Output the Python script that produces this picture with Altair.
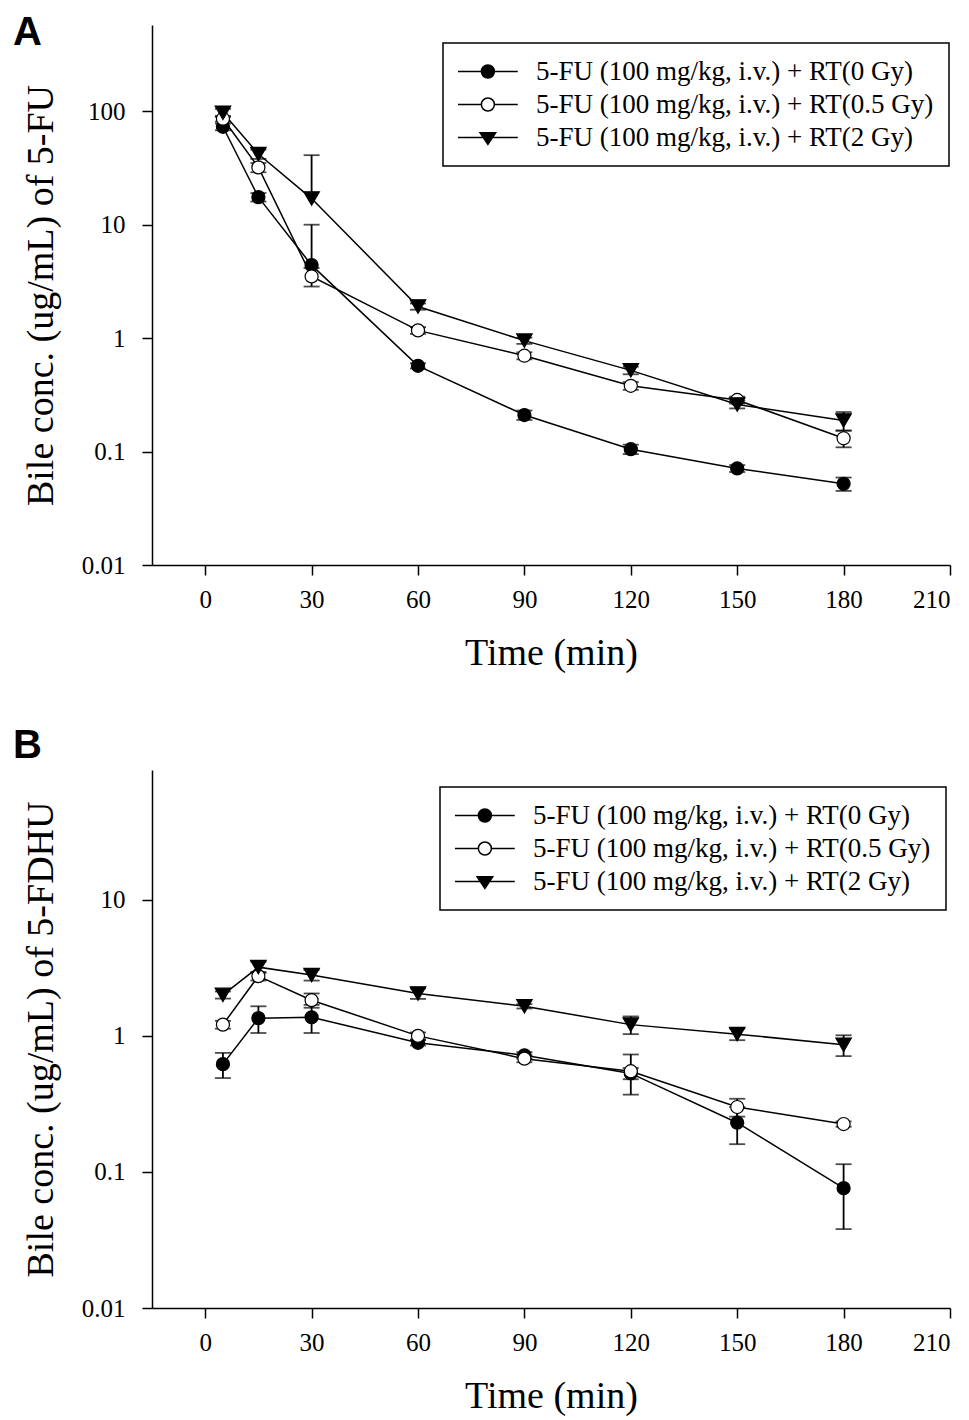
import altair as alt
import pandas as pd

# ---------------- data ----------------
time_min = [5, 15, 30, 60, 90, 120, 150, 180]
series_labels = [
    "5-FU (100 mg/kg, i.v.) + RT(0 Gy)",
    "5-FU (100 mg/kg, i.v.) + RT(0.5 Gy)",
    "5-FU (100 mg/kg, i.v.) + RT(2 Gy)",
]

# Panel A: bile conc. of 5-FU (ug/mL)
fu_0gy = [73, 17.5, 4.4, 0.57, 0.21, 0.105, 0.071, 0.052]
fu_0gy_sd = [5, 1.5, 5.6, 0.03, 0.02, 0.01, 0.005, 0.007]
fu_05gy = [86, 32, 3.5, 1.17, 0.70, 0.38, 0.285, 0.131]
fu_05gy_sd = [5, 3, 0.65, 0.08, 0.05, 0.03, 0.02, 0.022]
fu_2gy = [97, 42, 17, 1.9, 0.95, 0.52, 0.26, 0.188]
fu_2gy_sd = [8, 4, 24, 0.12, 0.06, 0.04, 0.02, 0.035]

# Panel B: bile conc. of 5-FDHU (ug/mL)
fdhu_0gy = [0.62, 1.35, 1.37, 0.89, 0.72, 0.53, 0.23, 0.076]
fdhu_0gy_sd = [0.13, 0.3, 0.32, 0.04, 0.04, 0.05, 0.07, 0.038]
fdhu_05gy = [1.21, 2.75, 1.83, 1.0, 0.68, 0.55, 0.30, 0.225]
fdhu_05gy_sd = [0.08, 0.2, 0.22, 0.06, 0.04, 0.18, 0.045, 0.01]
fdhu_2gy = [2.0, 3.2, 2.8, 2.05, 1.65, 1.21, 1.03, 0.86]
fdhu_2gy_sd = [0.12, 0.3, 0.25, 0.18, 0.06, 0.18, 0.1, 0.15]

x_ticks = [0, 30, 60, 90, 120, 150, 180, 210]
y_ticks_a = [0.01, 0.1, 1, 10, 100]
y_ticks_b = [0.01, 0.1, 1, 10]

# marker style per series
marker_shapes = ["circle", "circle", "triangle-down"]
marker_fills = ["black", "white", "black"]
marker_sizes = [170, 170, 240]


def make_df(series_vals):
    rows = []
    for label, (vals, sds) in zip(series_labels, series_vals):
        for t, v, s in zip(time_min, vals, sds):
            lo = v - s
            rows.append({
                "time": t, "series": label, "value": v,
                "hi": v + s, "lo": lo if lo > 0 else v, "has_lo": lo > 0,
            })
    return pd.DataFrame(rows)


df_a = make_df([(fu_0gy, fu_0gy_sd), (fu_05gy, fu_05gy_sd), (fu_2gy, fu_2gy_sd)])
df_b = make_df([(fdhu_0gy, fdhu_0gy_sd), (fdhu_05gy, fdhu_05gy_sd), (fdhu_2gy, fdhu_2gy_sd)])

SERIF = "Liberation Serif"

# legend symbols: line segment with marker (unit = half of sqrt(symbolSize))
leg_paths = [
    "M-2.08,0L7.12,0M1.52,0A1,1 0 1,1 3.52,0A1,1 0 1,1 1.52,0Z",
    "M-2.08,0L1.52,0M3.52,0L7.12,0M1.52,0A1,1 0 1,1 3.52,0A1,1 0 1,1 1.52,0Z",
    "M-2.08,0L7.12,0M1.32,-0.75L3.72,-0.75L2.52,1.05Z",
]


def panel(df, ydomain, yticks, ytitle, letter, leg_x, leg_y, title_offset, h):
    xenc = alt.X(
        "time:Q",
        scale=alt.Scale(domain=[-15, 210], nice=False, zero=False),
        axis=alt.Axis(values=x_ticks, format="d", title="Time (min)",
                      labelPadding=12, titlePadding=22),
    )

    def yenc(field):
        return alt.Y(
            field,
            scale=alt.Scale(type="log", domain=ydomain, nice=False),
            axis=alt.Axis(values=yticks, format="~g", title=ytitle,
                          labelPadding=17, titlePadding=21),
        )

    base = alt.Chart(df).encode(x=xenc)
    lines = base.mark_line(color="black", strokeWidth=1.5).encode(
        y=yenc("value:Q"), detail="series:N", order="time:Q")
    err = base.mark_rule(color="black", strokeWidth=1.8).encode(
        y=yenc("lo:Q"), y2="hi:Q")
    cap_hi = base.mark_tick(color="black", thickness=1.8, size=16,
                            orient="horizontal").encode(y=yenc("hi:Q"))
    cap_lo = base.transform_filter("datum.has_lo").mark_tick(
        color="black", thickness=1.8, size=16, orient="horizontal"
    ).encode(y=yenc("lo:Q"))

    point_layers = []
    for label, shp, fll, sz in zip(series_labels, marker_shapes, marker_fills, marker_sizes):
        point_layers.append(
            base.transform_filter(alt.datum.series == label).mark_point(
                shape=shp, filled=True, fill=fll, stroke="black",
                strokeWidth=1.2, size=sz, opacity=1,
            ).encode(y=yenc("value:Q"))
        )

    leg = alt.Legend(
        title=None, orient="none", legendX=leg_x, legendY=leg_y,
        labelFont=SERIF, labelFontSize=27, labelColor="black",
        symbolSize=169, symbolStrokeColor="black", symbolStrokeWidth=1.5,
        symbolOpacity=1, labelOffset=51, rowPadding=5, padding=15,
        strokeColor="black", labelLimit=600,
    )
    legend_layer = base.transform_filter("false").mark_point(
        filled=True, strokeWidth=1.5, opacity=1
    ).encode(
        y=yenc("value:Q"),
        shape=alt.Shape("series:N", scale=alt.Scale(
            domain=series_labels, range=leg_paths), legend=leg),
        fill=alt.Fill("series:N", scale=alt.Scale(
            domain=series_labels, range=marker_fills), legend=leg),
        stroke=alt.Stroke("series:N", scale=alt.Scale(
            domain=series_labels, range=["black", "black", "black"]), legend=leg),
    )
    return alt.layer(lines, err, cap_hi, cap_lo, *point_layers, legend_layer).properties(
        width=798, height=h,
        title=alt.TitleParams(
            text=letter, anchor="start", frame="group", dx=-139,
            offset=title_offset, baseline="top",
            font="Liberation Sans", fontSize=40, fontWeight="bold", color="black",
        ),
    )


chart_a = panel(df_a, [0.01, 576], y_ticks_a, "Bile conc. (ug/mL) of 5-FU", "A",
                291, 18, -28, 540)
chart_b = panel(df_b, [0.01, 90], y_ticks_b, "Bile conc. (ug/mL) of 5-FDHU", "B",
                288, 17, 4, 538)

chart = alt.vconcat(chart_a, chart_b, spacing=54).resolve_scale(
    shape="independent", fill="independent", stroke="independent"
).resolve_legend(
    shape="independent", fill="independent", stroke="independent"
).configure_view(
    stroke=None
).configure_axis(
    labelFont=SERIF, labelFontSize=25, labelColor="black",
    titleFont=SERIF, titleFontSize=38, titleFontWeight="normal", titleColor="black",
    domainColor="black", domainWidth=1.5, tickColor="black", tickWidth=1.5,
    tickSize=10, grid=False,
).configure_legend(strokeWidth=1.5)

chart.save("out.html", embed_options={"renderer": "svg", "actions": False})
